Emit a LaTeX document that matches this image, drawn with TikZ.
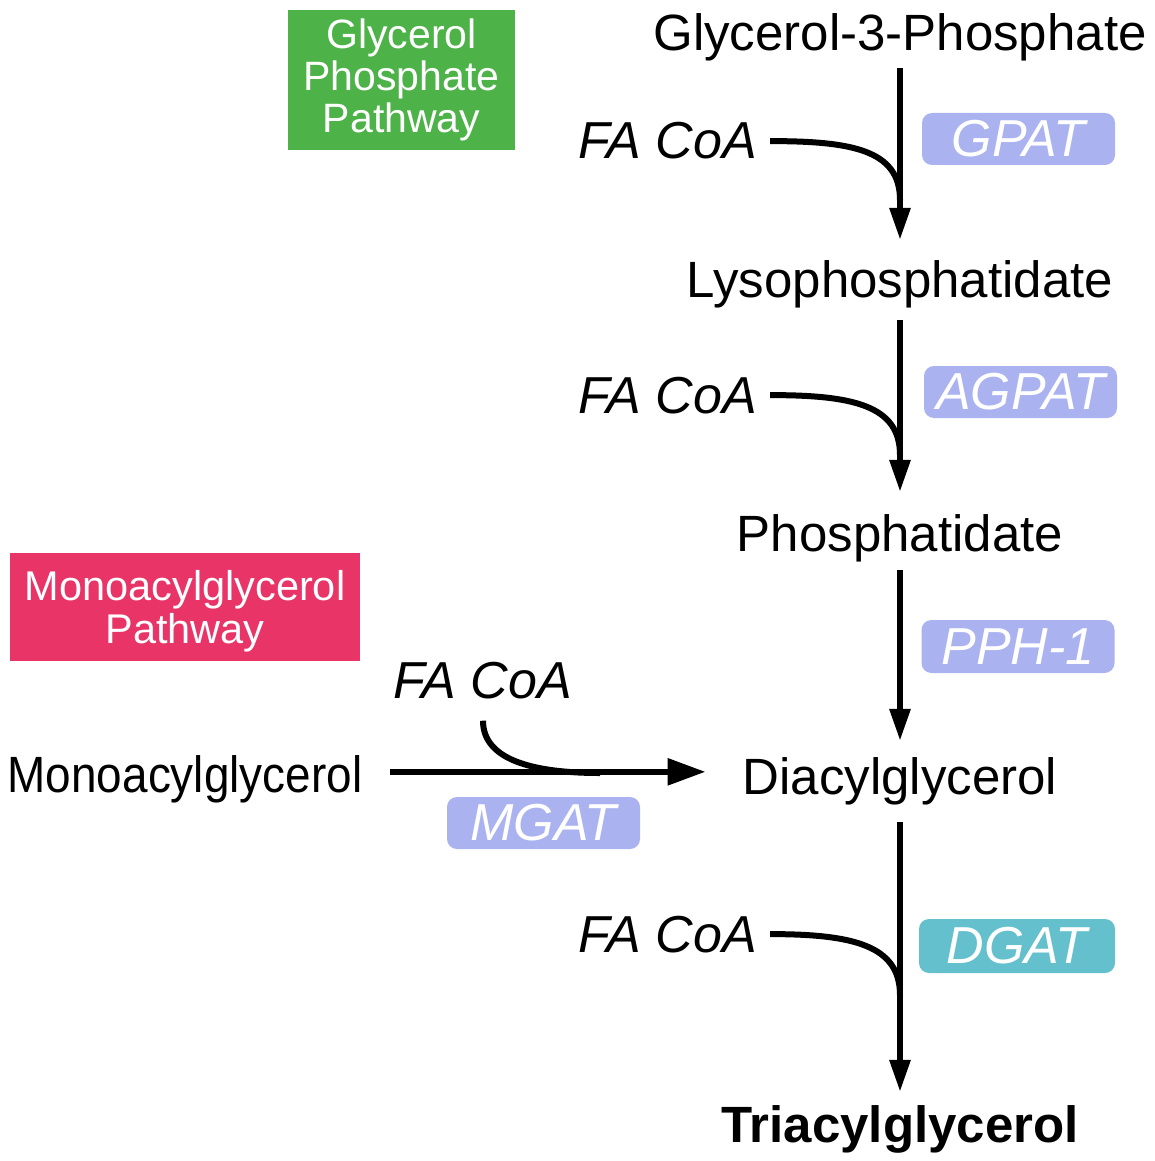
\documentclass[tikz,border=0pt]{standalone}
\usepackage{fontspec}
\setmainfont{Liberation Sans}
\usetikzlibrary{arrows.meta}
\definecolor{gppgreen}{RGB}{77,178,72}
\definecolor{magred}{RGB}{232,52,102}
\definecolor{enzblue}{RGB}{170,178,240}
\definecolor{enzteal}{RGB}{100,192,204}
\begin{document}
\begin{tikzpicture}
      [x=1pt,y=-1pt,every node/.style={inner sep=0pt},
       met/.style={anchor=base, font=\fontsize{51}{60}\selectfont},
       facoa/.style={font=\fontsize{52}{60}\selectfont\itshape},
       enz/.style={fill=enzblue, rounded corners=10pt, minimum width=193pt, minimum height=52pt, text=white, font=\fontsize{52}{60}\selectfont\itshape},
       pathbox/.style={text=white, align=center},
       rxn/.style={line width=6pt, -{Triangle[length=32pt,width=20pt]}},
       rxnh/.style={line width=6pt, -{Triangle[length=38pt,width=26pt]}},
       acyl/.style={line width=6pt}]
    \useasboundingbox (0,0) rectangle (1154,1161);
    % pathway labels
    \node[pathbox, fill=gppgreen, minimum width=227pt, minimum height=140pt, font=\fontsize{41}{42}\selectfont] (gpp) at (401.5,80) {\rule[-12pt]{0pt}{36pt}Glycerol\\Phosphate\\Pathway};
    \node[pathbox, fill=magred, minimum width=350pt, minimum height=108pt, font=\fontsize{41.5}{43}\selectfont] (mgp) at (185,607) {\rule{0pt}{38pt}Monoacylglycerol\\Pathway};
    % metabolites
    \node[met] (g3p) at (900,51) {Glycerol-3-Phosphate};
    \node[met] (lpa) at (900,297) {Lysophosphatidate};
    \node[met] (pa) at (900,551) {Phosphatidate};
    \node[met] (dag) at (900,794) {Diacylglycerol};
    \node[met, font=\fontsize{51}{60}\selectfont\bfseries] (tag) at (900,1142) {Triacylglycerol};
    \node[met] (mag) at (185,792) {\scalebox{0.9}[1]{Monoacylglycerol}};
    % acyl donors
    \node[facoa, anchor=base east] (fa1) at (757,159) {FA CoA};
    \node[facoa, anchor=base east] (fa2) at (757,413) {FA CoA};
    \node[facoa, anchor=base east] (fa4) at (757,952) {FA CoA};
    \node[facoa, anchor=base] (fa5) at (483,698) {FA CoA};
    % enzymes
    \node[enz] (gpat) at (1018.5,139) {GPAT};
    \node[enz] (agpat) at (1020.5,392) {AGPAT};
    \node[enz, minimum height=53pt] (pph) at (1018,646.5) {PPH-1};
    \node[enz, fill=enzteal, minimum width=196pt, minimum height=54pt] (dgat) at (1017,946) {DGAT};
    \node[enz] (mgat) at (543.5,823) {MGAT};

    \coordinate (m1) at (900,200);
    \coordinate (m2) at (900,455);
    \coordinate (m4) at (900,995);
    \coordinate (m5) at (600,773);

  \foreach \from/\to/\s/\e in {g3p/lpa/6/20, lpa/pa/12/22, pa/dag/8/16, dag/tag/17/13}
    \draw[rxn, shorten <=\s pt, shorten >=\e pt] (\from) -- (\to);
  \draw[rxnh, shorten <=27pt, shorten >=37pt] ([yshift=7pt]mag.east) -- ([yshift=7pt]mag.east -| dag.west);

  \foreach \fa/\m in {fa1/m1, fa2/m2, fa4/m4}
    \draw[acyl, shorten <=13pt] (\fa.east) .. controls +(95,0) and +(0,-50) .. (\m);
  \draw[acyl, shorten <=22pt] (fa5.south) .. controls +(0,60) and +(-70,0) .. (m5);
\end{tikzpicture}
\end{document}
